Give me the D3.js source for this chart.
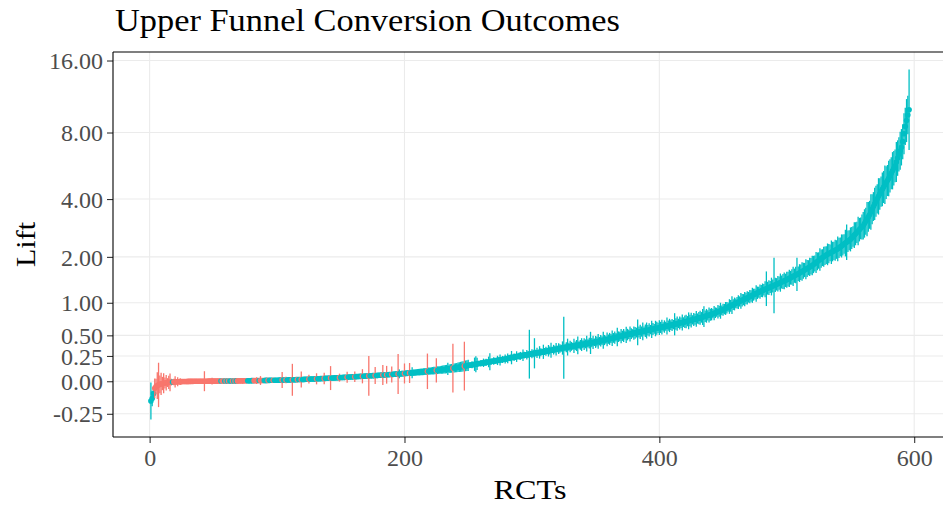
<!DOCTYPE html>
<html>
<head>
<meta charset="utf-8">
<script src="https://cdn.jsdelivr.net/npm/d3@7"></script>
<style>
  body { margin: 0; background: #ffffff; }
  svg text { font-family: "Liberation Serif", "Times New Roman", serif; }
</style>
</head>
<body>
<svg id="chart" width="943" height="506"></svg>
<script>
// Estimated relative lift of each RCT, sorted ascending (index = RCT rank).
const lift = [
  -0.160, -0.141, -0.104, -0.061, -0.046, -0.038, -0.032, -0.027, -0.023, -0.020,
  -0.0176, -0.0153, -0.0134, -0.0119, -0.0104, -0.0093, -0.0083, -0.0074, -0.0067, -0.0060,
  -0.0054, -0.0047, -0.0043, -0.0037, -0.0032, -0.0027, -0.0024, -0.0021, -0.0018, -0.0016,
  -0.0013, -0.0011, -0.0010, -0.0008, -0.0007, -0.0005, -0.0004, -0.0003, -0.0001, 0.0000,
  0.0001, 0.0002, 0.0002, 0.0004, 0.0005, 0.0006, 0.0007, 0.0008, 0.0009, 0.0010,
  0.0011, 0.0012, 0.0013, 0.0014, 0.0015, 0.0017, 0.0017, 0.0018, 0.0020, 0.0021,
  0.0022, 0.0023, 0.0024, 0.0025, 0.0026, 0.0027, 0.0028, 0.0029, 0.0030, 0.0031,
  0.0033, 0.0035, 0.0036, 0.0038, 0.0040, 0.0042, 0.0044, 0.0046, 0.0048, 0.0050,
  0.0052, 0.0054, 0.0056, 0.0058, 0.0060, 0.0062, 0.0064, 0.0066, 0.0068, 0.0070,
  0.0072, 0.0074, 0.0076, 0.0079, 0.0081, 0.0083, 0.0085, 0.0087, 0.0089, 0.0092,
  0.0094, 0.0097, 0.0100, 0.0103, 0.0106, 0.0109, 0.0112, 0.0115, 0.0118, 0.0121,
  0.0124, 0.0128, 0.0132, 0.0135, 0.0140, 0.0144, 0.0148, 0.0152, 0.0156, 0.0161,
  0.0165, 0.0170, 0.0175, 0.0179, 0.0185, 0.0190, 0.0195, 0.0201, 0.0205, 0.0210,
  0.0216, 0.0222, 0.0228, 0.0233, 0.0240, 0.0246, 0.0252, 0.0258, 0.0264, 0.0271,
  0.0276, 0.0282, 0.0288, 0.0294, 0.0300, 0.0307, 0.0312, 0.0318, 0.0324, 0.0330,
  0.0337, 0.0344, 0.0351, 0.0357, 0.0365, 0.0372, 0.0379, 0.0386, 0.0393, 0.0400,
  0.0407, 0.0414, 0.0421, 0.0428, 0.0435, 0.0442, 0.0449, 0.0457, 0.0463, 0.0470,
  0.0477, 0.0484, 0.0491, 0.0498, 0.0505, 0.0512, 0.0519, 0.0526, 0.0533, 0.0540,
  0.0548, 0.0556, 0.0564, 0.0572, 0.0580, 0.0588, 0.0596, 0.0604, 0.0612, 0.0620,
  0.0629, 0.0638, 0.0647, 0.0656, 0.0665, 0.0674, 0.0683, 0.0692, 0.0701, 0.0710,
  0.0721, 0.0732, 0.0743, 0.0754, 0.0765, 0.0776, 0.0787, 0.0798, 0.0809, 0.0820,
  0.0832, 0.0844, 0.0856, 0.0868, 0.0880, 0.0892, 0.0904, 0.0916, 0.0928, 0.0940,
  0.0954, 0.0968, 0.0982, 0.0996, 0.1010, 0.1024, 0.1038, 0.1052, 0.1066, 0.1080,
  0.1098, 0.1116, 0.1134, 0.1152, 0.1170, 0.1188, 0.1206, 0.1224, 0.1242, 0.1260,
  0.1284, 0.1308, 0.1332, 0.1356, 0.1380, 0.1404, 0.1428, 0.1452, 0.1476, 0.1500,
  0.152, 0.154, 0.157, 0.158, 0.162, 0.163, 0.166, 0.169, 0.170, 0.172,
  0.175, 0.177, 0.179, 0.181, 0.184, 0.186, 0.188, 0.190, 0.193, 0.195,
  0.197, 0.200, 0.202, 0.205, 0.207, 0.210, 0.212, 0.215, 0.217, 0.220,
  0.223, 0.226, 0.229, 0.232, 0.235, 0.237, 0.240, 0.243, 0.246, 0.248,
  0.251, 0.254, 0.257, 0.259, 0.262, 0.264, 0.267, 0.270, 0.272, 0.275,
  0.277, 0.280, 0.282, 0.285, 0.287, 0.290, 0.292, 0.295, 0.297, 0.300,
  0.303, 0.306, 0.309, 0.312, 0.315, 0.318, 0.321, 0.324, 0.327, 0.330,
  0.333, 0.336, 0.338, 0.341, 0.344, 0.347, 0.350, 0.352, 0.355, 0.358,
  0.361, 0.363, 0.366, 0.369, 0.371, 0.374, 0.377, 0.379, 0.382, 0.385,
  0.388, 0.391, 0.394, 0.397, 0.400, 0.403, 0.406, 0.409, 0.412, 0.415,
  0.418, 0.422, 0.425, 0.429, 0.432, 0.436, 0.439, 0.443, 0.446, 0.450,
  0.454, 0.458, 0.462, 0.466, 0.470, 0.474, 0.478, 0.482, 0.486, 0.490,
  0.494, 0.498, 0.502, 0.506, 0.510, 0.514, 0.518, 0.522, 0.526, 0.530,
  0.533, 0.537, 0.540, 0.544, 0.547, 0.551, 0.554, 0.558, 0.561, 0.565,
  0.569, 0.573, 0.577, 0.581, 0.585, 0.589, 0.593, 0.597, 0.601, 0.605,
  0.609, 0.613, 0.617, 0.621, 0.625, 0.629, 0.633, 0.637, 0.641, 0.645,
  0.649, 0.654, 0.658, 0.663, 0.667, 0.672, 0.676, 0.681, 0.685, 0.690,
  0.695, 0.700, 0.705, 0.710, 0.715, 0.720, 0.725, 0.730, 0.735, 0.740,
  0.746, 0.752, 0.758, 0.764, 0.770, 0.776, 0.782, 0.788, 0.794, 0.800,
  0.808, 0.816, 0.824, 0.832, 0.840, 0.848, 0.856, 0.864, 0.872, 0.880,
  0.891, 0.902, 0.913, 0.924, 0.935, 0.946, 0.957, 0.968, 0.979, 0.990,
  1.001, 1.012, 1.023, 1.034, 1.045, 1.056, 1.067, 1.078, 1.089, 1.100,
  1.112, 1.124, 1.136, 1.148, 1.160, 1.172, 1.184, 1.196, 1.208, 1.220,
  1.231, 1.242, 1.253, 1.264, 1.275, 1.286, 1.297, 1.308, 1.319, 1.330,
  1.342, 1.354, 1.366, 1.378, 1.390, 1.402, 1.414, 1.426, 1.438, 1.450,
  1.465, 1.480, 1.495, 1.510, 1.525, 1.540, 1.555, 1.570, 1.585, 1.600,
  1.618, 1.636, 1.654, 1.672, 1.690, 1.708, 1.726, 1.744, 1.762, 1.780,
  1.805, 1.830, 1.855, 1.880, 1.905, 1.930, 1.955, 1.980, 2.005, 2.030,
  2.049, 2.068, 2.087, 2.106, 2.125, 2.144, 2.163, 2.182, 2.201, 2.220,
  2.248, 2.276, 2.304, 2.332, 2.360, 2.388, 2.416, 2.444, 2.472, 2.500,
  2.545, 2.590, 2.635, 2.680, 2.725, 2.770, 2.815, 2.860, 2.905, 2.950,
  3.03, 3.11, 3.19, 3.27, 3.35, 3.46, 3.57, 3.68, 3.79, 3.90,
  4.01, 4.12, 4.23, 4.34, 4.45, 4.56, 4.67, 4.78, 4.89, 5.00,
  5.14, 5.28, 5.42, 5.56, 5.70, 5.94, 6.18, 6.42, 6.66, 6.90,
  7.30, 7.90, 8.50, 9.00, 9.50, 10.00
];

// Standard error of log(1 + lift) for each RCT.
const seLog = [
  0.0835, 0.035, 0.025, 0.045, 0.035, 0.060, 0.100, 0.040, 0.050, 0.030,
  0.045, 0.025, 0.035, 0.020, 0.030, 0.040, 0.015, 0.002, 0.015, 0.025,
  0.008, 0.020, 0.006, 0.015, 0.005, 0.010, 0.006, 0.004, 0.010, 0.005,
  0.003, 0.002, 0.005, 0.0025, 0.004, 0.0015, 0.006, 0.003, 0.002, 0.010,
  0.0025, 0.0035, 0.045, 0.005, 0.003, 0.002, 0.008, 0.0025, 0.015, 0.004,
  0.003, 0.005, 0.002, 0.006, 0.0012, 0.0004, 0.003, 0.0025, 0.0005, 0.004,
  0.0005, 0.003, 0.0006, 0.0005, 0.004, 0.0006, 0.008, 0.0005, 0.003, 0.002,
  0.005, 0.003, 0.012, 0.004, 0.003, 0.006, 0.0008, 0.0009, 0.0007, 0.001,
  0.0012, 0.008, 0.004, 0.015, 0.006, 0.0012, 0.020, 0.005, 0.010, 0.0014,
  0.0015, 0.0014, 0.006, 0.0016, 0.0015, 0.0018, 0.008, 0.0017, 0.0016, 0.0019,
  0.0020, 0.0018, 0.0022, 0.036, 0.0020, 0.0024, 0.015, 0.0021, 0.0025, 0.0023,
  0.0024, 0.072, 0.0026, 0.0025, 0.0028, 0.012, 0.0027, 0.0030, 0.036, 0.0030,
  0.0035, 0.0032, 0.0034, 0.0036, 0.020, 0.0035, 0.0038, 0.0037, 0.0040, 0.0039,
  0.025, 0.0040, 0.0042, 0.0045, 0.0043, 0.0046, 0.026, 0.0048, 0.0047, 0.0050,
  0.0052, 0.054, 0.0055, 0.0053, 0.0058, 0.0056, 0.0060, 0.0059, 0.018, 0.0062,
  0.0065, 0.0063, 0.0068, 0.0066, 0.025, 0.0070, 0.0069, 0.0072, 0.0071, 0.0075,
  0.024, 0.0078, 0.0076, 0.0080, 0.0079, 0.0082, 0.032, 0.0084, 0.0083, 0.0086,
  0.0088, 0.090, 0.0090, 0.0092, 0.0091, 0.0094, 0.038, 0.0096, 0.0095, 0.0098,
  0.0100, 0.0102, 0.045, 0.0104, 0.0106, 0.040, 0.0108, 0.0110, 0.0112, 0.036,
  0.0114, 0.0116, 0.0118, 0.0120, 0.090, 0.020, 0.0124, 0.0126, 0.0128, 0.045,
  0.0130, 0.0132, 0.0134, 0.045, 0.0136, 0.025, 0.0140, 0.0142, 0.0144, 0.0146,
  0.0148, 0.0150, 0.0152, 0.0154, 0.0156, 0.0158, 0.0160, 0.080, 0.0162, 0.0164,
  0.0166, 0.0168, 0.0170, 0.0172, 0.055, 0.0174, 0.0176, 0.0178, 0.0180, 0.0182,
  0.0185, 0.0188, 0.0190, 0.028, 0.0192, 0.0195, 0.0198, 0.110, 0.0200, 0.0205,
  0.0210, 0.0215, 0.0220, 0.0225, 0.0230, 0.0235, 0.110, 0.0240, 0.0245, 0.0250,
  0.012, 0.010, 0.016, 0.011, 0.030, 0.036, 0.028, 0.012, 0.009, 0.015,
  0.011, 0.019, 0.013, 0.016, 0.010, 0.024, 0.038, 0.014, 0.011, 0.017,
  0.014, 0.010, 0.021, 0.012, 0.025, 0.012, 0.016, 0.010, 0.020, 0.013,
  0.022, 0.012, 0.015, 0.030, 0.011, 0.017, 0.014, 0.024, 0.012, 0.016,
  0.018, 0.013, 0.026, 0.015, 0.012, 0.021, 0.016, 0.110, 0.014, 0.020,
  0.017, 0.068, 0.015, 0.023, 0.013, 0.028, 0.018, 0.014, 0.032, 0.016,
  0.020, 0.015, 0.026, 0.018, 0.034, 0.014, 0.022, 0.017, 0.028, 0.015,
  0.024, 0.019, 0.016, 0.030, 0.140, 0.017, 0.023, 0.038, 0.018, 0.026,
  0.020, 0.016, 0.032, 0.019, 0.025, 0.040, 0.017, 0.022, 0.029, 0.018,
  0.026, 0.020, 0.036, 0.019, 0.024, 0.050, 0.021, 0.030, 0.017, 0.027,
  0.022, 0.033, 0.019, 0.026, 0.020, 0.038, 0.023, 0.018, 0.031, 0.021,
  0.027, 0.020, 0.035, 0.022, 0.028, 0.019, 0.042, 0.024, 0.021, 0.032,
  0.023, 0.029, 0.020, 0.037, 0.026, 0.021, 0.034, 0.024, 0.019, 0.030,
  0.026, 0.022, 0.058, 0.025, 0.032, 0.023, 0.040, 0.020, 0.028, 0.036,
  0.024, 0.030, 0.021, 0.039, 0.027, 0.022, 0.035, 0.029, 0.023, 0.033,
  0.025, 0.033, 0.021, 0.028, 0.020, 0.038, 0.023, 0.030, 0.022, 0.027,
  0.021, 0.050, 0.026, 0.032, 0.021, 0.029, 0.024, 0.036, 0.022, 0.028,
  0.030, 0.023, 0.038, 0.026, 0.033, 0.021, 0.029, 0.025, 0.035, 0.023,
  0.028, 0.032, 0.024, 0.036, 0.047, 0.026, 0.031, 0.023, 0.034, 0.027,
  0.028, 0.021, 0.032, 0.024, 0.020, 0.030, 0.025, 0.036, 0.022, 0.027,
  0.023, 0.029, 0.026, 0.021, 0.033, 0.027, 0.040, 0.024, 0.029, 0.022,
  0.026, 0.031, 0.023, 0.035, 0.028, 0.025, 0.032, 0.026, 0.030, 0.024,
  0.030, 0.026, 0.034, 0.027, 0.024, 0.037, 0.028, 0.025, 0.032, 0.027,
  0.031, 0.026, 0.036, 0.078, 0.029, 0.033, 0.027, 0.040, 0.029, 0.125,
  0.032, 0.028, 0.035, 0.030, 0.041, 0.029, 0.034, 0.038, 0.030, 0.036,
  0.033, 0.039, 0.031, 0.035, 0.043, 0.032, 0.037, 0.075, 0.033, 0.040,
  0.035, 0.042, 0.036, 0.032, 0.045, 0.038, 0.034, 0.041, 0.037, 0.044,
  0.039, 0.036, 0.047, 0.040, 0.037, 0.051, 0.041, 0.038, 0.045, 0.042,
  0.040, 0.049, 0.043, 0.038, 0.053, 0.044, 0.041, 0.047, 0.042, 0.056,
  0.046, 0.042, 0.052, 0.047, 0.044, 0.060, 0.080, 0.049, 0.045, 0.054,
  0.050, 0.046, 0.058, 0.052, 0.048, 0.064, 0.053, 0.049, 0.056, 0.062,
  0.064, 0.061, 0.077, 0.067, 0.063, 0.080, 0.068, 0.065, 0.073, 0.070,
  0.066, 0.082, 0.071, 0.068, 0.076, 0.072, 0.087, 0.074, 0.070, 0.080,
  0.075, 0.072, 0.084, 0.078, 0.074, 0.090, 0.080, 0.077, 0.086, 0.082,
  0.079, 0.092, 0.084, 0.097, 0.087, 0.1816
];

const yTicks = [-0.25, 0, 0.25, 0.5, 1, 2, 4, 8, 16];
const yTickLabels = ["-0.25", "0.00", "0.25", "0.50", "1.00", "2.00", "4.00", "8.00", "16.00"];
const xTicks = [0, 200, 400, 600];
const xTickLabels = ["0", "200", "400", "600"];

const chartTitle = "Upper Funnel Conversion Outcomes";
const xTitle = "RCTs";
const yTitle = "Lift";

const colNotSig = "#F8766D";
const colSig = "#00BFC4";
const z95 = 1.96;

// 95% intervals built on the log(1 + lift) scale.
const rows = lift.map((v, i) => {
  const c = Math.log1p(v);
  const w = z95 * seLog[i];
  const lo = Math.expm1(c - w), hi = Math.expm1(c + w);
  return { rct: i + 1, lift: v, lo, hi, sig: lo > 0 || hi < 0 };
});

const svg = d3.select("#chart");
const panel = { left: 113, right: 947, top: 52, bottom: 437 };

const n = rows.length;
const xPad = (n - 1) * 0.05;
const x = d3.scaleLinear().domain([1 - xPad, n + xPad]).range([panel.left, panel.right]);

// y axis uses a log(1 + x) transform
const tLo = d3.min(rows, d => Math.log1p(d.lo));
const tHi = d3.max(rows, d => Math.log1p(d.hi));
const yPad = (tHi - tLo) * 0.05;
const yT = d3.scaleLinear().domain([tLo - yPad, tHi + yPad]).range([panel.bottom, panel.top]);
const y = v => yT(Math.log1p(v));

svg.append("rect").attr("width", 943).attr("height", 506).attr("fill", "#ffffff");

svg.append("defs").append("clipPath").attr("id", "panel-clip")
  .append("rect")
  .attr("x", panel.left).attr("y", panel.top)
  .attr("width", panel.right - panel.left).attr("height", panel.bottom - panel.top);

// grid
const grid = svg.append("g").attr("stroke", "#EBEBEB").attr("stroke-width", 1.1);
grid.selectAll("line.hy").data(yTicks).join("line")
  .attr("x1", panel.left).attr("x2", panel.right)
  .attr("y1", d => y(d)).attr("y2", d => y(d));
grid.selectAll("line.vx").data(xTicks).join("line")
  .attr("y1", panel.top).attr("y2", panel.bottom)
  .attr("x1", d => x(d)).attr("x2", d => x(d));

// point ranges, drawn in rank order
const marks = svg.append("g").attr("clip-path", "url(#panel-clip)");
const pr = marks.selectAll("g.pr").data(rows).join("g").attr("class", "pr");
pr.append("line")
  .attr("x1", d => x(d.rct)).attr("x2", d => x(d.rct))
  .attr("y1", d => y(d.lo)).attr("y2", d => y(d.hi))
  .attr("stroke", d => d.sig ? colSig : colNotSig)
  .attr("stroke-width", 1.3);
pr.append("circle")
  .attr("cx", d => x(d.rct)).attr("cy", d => y(d.lift))
  .attr("r", 2.8)
  .attr("fill", d => d.sig ? colSig : colNotSig);

// axes
const yAxis = d3.axisLeft(yT)
  .tickValues(yTicks.map(Math.log1p))
  .tickFormat((d, i) => yTickLabels[i])
  .tickSize(6).tickPadding(4);
const gy = svg.append("g").attr("transform", `translate(${panel.left},0)`).call(yAxis);

const xAxis = d3.axisBottom(x)
  .tickValues(xTicks)
  .tickFormat((d, i) => xTickLabels[i])
  .tickSize(6).tickPadding(6);
const gx = svg.append("g").attr("transform", `translate(0,${panel.bottom})`).call(xAxis);

[gx, gy].forEach(g => {
  g.select(".domain").remove();
  g.selectAll(".tick line").attr("stroke", "#333333").attr("stroke-width", 1.1);
  g.selectAll(".tick text")
    .attr("fill", "#4D4D4D")
    .style("font-family", '"Liberation Serif", "Times New Roman", serif')
    .style("font-size", "24px");
});
gy.selectAll(".tick text").attr("dy", "0.34em");

// panel lines
const frame = svg.append("g").attr("stroke", "#000000").attr("stroke-width", 1.1);
frame.append("line").attr("x1", panel.left).attr("x2", panel.left).attr("y1", panel.top).attr("y2", panel.bottom);
frame.append("line").attr("x1", panel.left).attr("x2", panel.right).attr("y1", panel.bottom).attr("y2", panel.bottom);
frame.append("line").attr("x1", panel.left).attr("x2", panel.right).attr("y1", panel.top).attr("y2", panel.top);

// titles
svg.append("text")
  .attr("x", 115).attr("y", 31)
  .attr("textLength", 505).attr("lengthAdjust", "spacingAndGlyphs")
  .style("font-size", "32px").attr("fill", "#000000")
  .text(chartTitle);

svg.append("text")
  .attr("x", (panel.left + panel.right) / 2).attr("y", 499)
  .attr("text-anchor", "middle")
  .attr("textLength", 73).attr("lengthAdjust", "spacingAndGlyphs")
  .style("font-size", "28px").attr("fill", "#000000")
  .text(xTitle);

svg.append("text")
  .attr("transform", `translate(35,${(panel.top + panel.bottom) / 2}) rotate(-90)`)
  .attr("text-anchor", "middle")
  .attr("textLength", 45).attr("lengthAdjust", "spacingAndGlyphs")
  .style("font-size", "28px").attr("fill", "#000000")
  .text(yTitle);
</script>
</body>
</html>
